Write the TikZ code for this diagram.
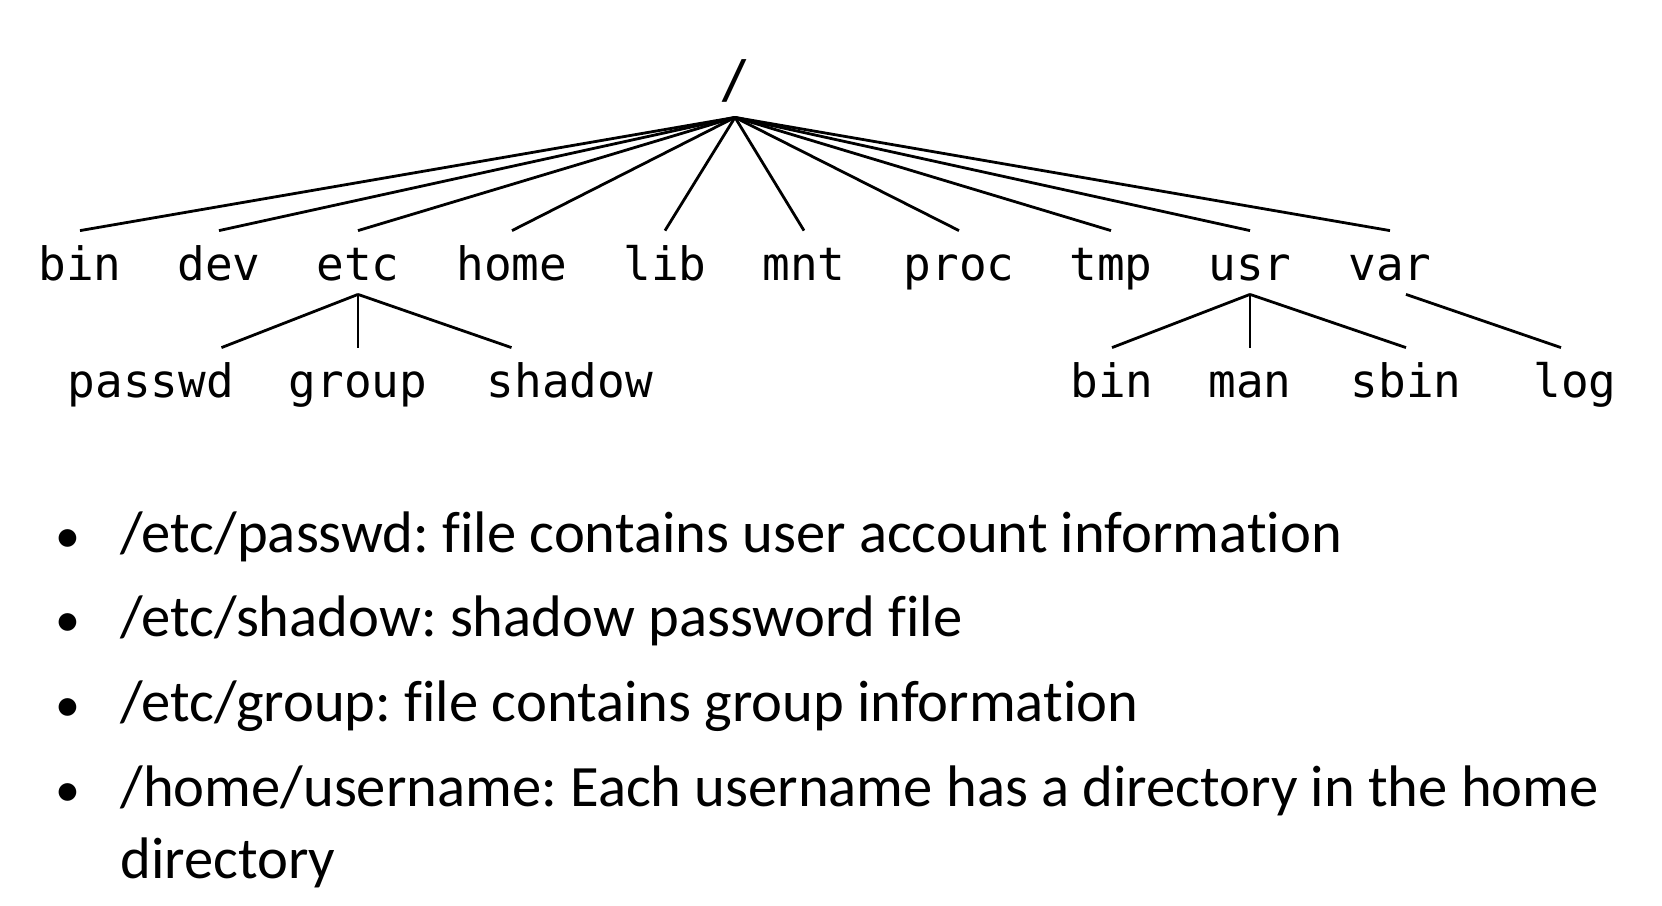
\documentclass[tikz,border=0pt]{standalone}
\usepackage{fontspec}
\setmainfont{Carlito}[Ligatures=NoCommon]
\newfontfamily\treefont{DejaVu Sans Mono}
\frenchspacing
\tikzset{
	dir/.style={font=\treefont\fontsize{23}{23}\selectfont, anchor=base, inner xsep=0pt, inner ysep=7pt, text height=17.5pt, text depth=0pt},
	branch/.style={line width=1.4pt},
	item/.style={font=\fontsize{29.3}{33}\selectfont, anchor=base west, inner sep=0pt},
}
\begin{document}
\begin{tikzpicture}[x=.5pt, y=-.5pt]
	\useasboundingbox (0,0) rectangle (1662,906);
	\node [dir, font=\treefont\fontsize{26}{26}\selectfont, inner ysep=10pt] (root) at (735,97) {/};
	\foreach \lbl/\x in {bin/80, dev/219, etc/358, home/512, lib/665, mnt/804, proc/959, tmp/1111, usr/1250, var/1390} {
		\node [dir] (\lbl) at (\x,280) {\lbl};
		\draw [branch] (root.south) -- (\lbl.north);
	}
	% second level
	\node [dir] (passwd) at (151,397) {passwd};
	\node [dir] (group)  at (358,397) {group};
	\node [dir] (shadow) at (570,397) {shadow};
	\node [dir] (ubin)   at (1112,397) {bin};
	\node [dir] (man)    at (1250,397) {man};
	\node [dir] (sbin)   at (1406,397) {sbin};
	\node [dir] (log)    at (1575,397) {log};
	\draw [branch] (etc.south) -- ([xshift=-6.5pt]passwd.north east);
	\draw [branch] (etc.south) -- (group.north);
	\draw [branch] (etc.south) -- ([xshift=12.5pt]shadow.north west);
	\foreach \lbl in {ubin, man, sbin} {
		\draw [branch] (usr.south) -- (\lbl.north);
	}
	\draw [branch] ([xshift=8pt]var.south) -- ([xshift=-7pt]log.north);
	% notes
	\foreach \y in {552, 636, 721, 806} {
		\node [item, anchor=base, font=\fontsize{25}{25}\selectfont] (dot\y) at (68,\y) {•};
	}
	\node [item] (passwdtxt) at (120,552) {/etc/passwd: file contains user account information};
	\node [item] (shadowtxt) at (120,636) {/etc/shadow: shadow password file};
	\node [item] (grouptxt)  at (120,721) {/etc/group: file contains group information};
	\node [item] (hometxt)   at (120,806) {/home/username: Each username has a directory in the home};
	\node [item] (hometxtb)  at (120,878) {directory};
\end{tikzpicture}
\end{document}
